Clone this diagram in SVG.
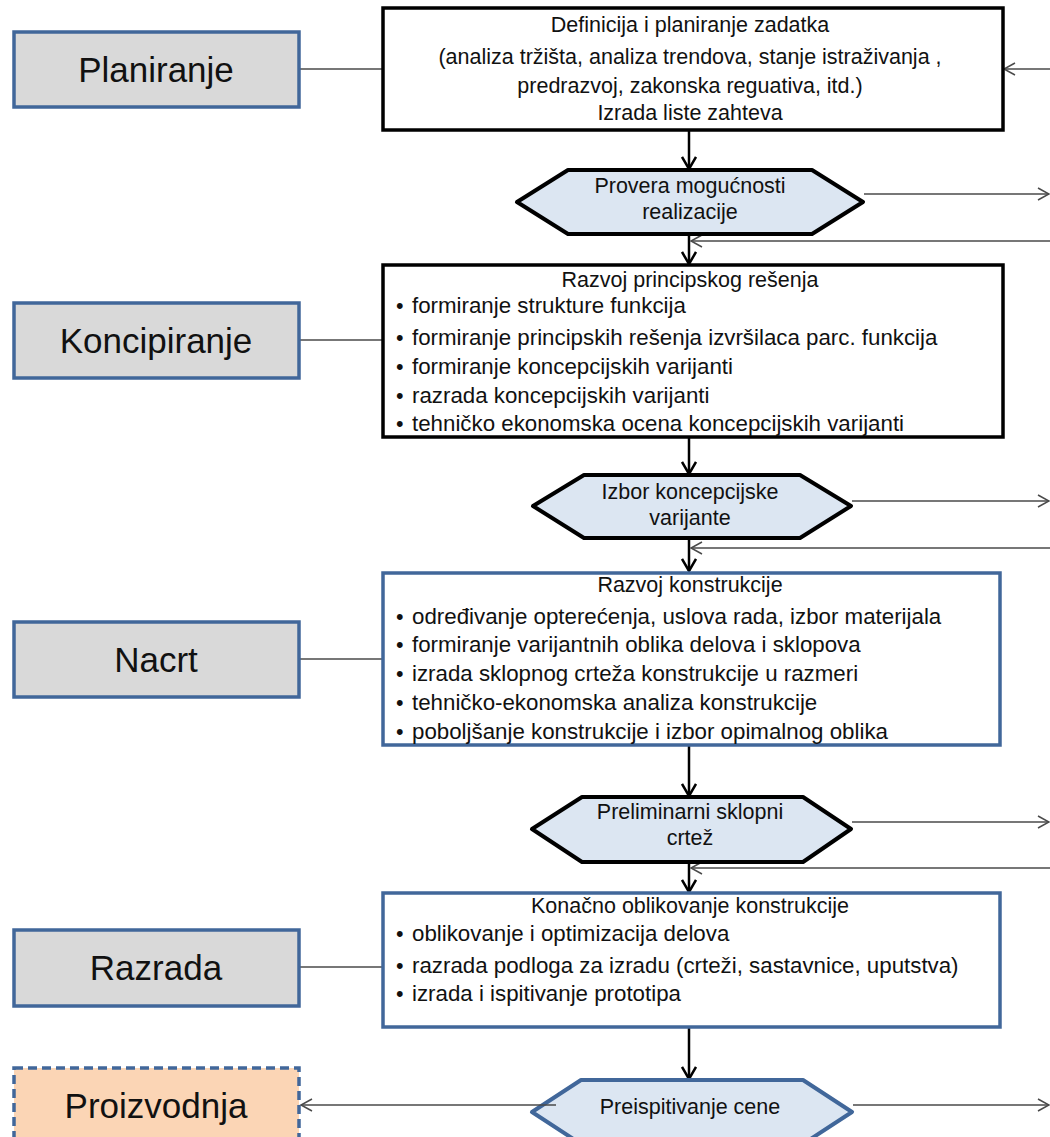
<svg xmlns="http://www.w3.org/2000/svg" width="1050" height="1137" viewBox="0 0 1050 1137">
<style>
text{font-family:"Liberation Sans",Arial,sans-serif;fill:#111}
.t{font-size:21.5px}
.b{font-size:22.3px}
.c{text-anchor:middle}
.lbl{font-size:35px;text-anchor:middle}
.phase{fill:#d9d9d9;stroke:#41679a;stroke-width:3.5}
.boxk{fill:#fff;stroke:#000;stroke-width:3.5}
.boxb{fill:#fff;stroke:#41679a;stroke-width:3.5}
.hexk{fill:#dce6f2;stroke:#000;stroke-width:4;stroke-linejoin:round}
.hexb{fill:#dce6f2;stroke:#41679a;stroke-width:4;stroke-linejoin:round}
.thin{stroke:#4a4a4a;stroke-width:1.5;fill:none}
.main{stroke:#000;stroke-width:2.5;fill:none}
</style>
<defs>
<marker id="ah" markerUnits="userSpaceOnUse" markerWidth="16" markerHeight="16" refX="13" refY="8" orient="auto">
<path d="M1,1 L13,8 L1,15" fill="none" stroke="#000" stroke-width="2.5"/>
</marker>
<marker id="at" markerUnits="userSpaceOnUse" markerWidth="14" markerHeight="14" refX="12" refY="7" orient="auto">
<path d="M1,1 L12,7 L1,13" fill="none" stroke="#4a4a4a" stroke-width="1.5"/>
</marker>
</defs>

<g id="connectors">
<line class="thin" x1="299" y1="69" x2="383" y2="69"/>
<line class="thin" x1="299" y1="340" x2="383" y2="340"/>
<line class="thin" x1="299" y1="659" x2="383" y2="659"/>
<line class="thin" x1="299" y1="967" x2="383" y2="967"/>
<line class="thin" x1="1050" y1="69" x2="1004" y2="69" marker-end="url(#at)"/>
<line class="main" x1="689" y1="130" x2="689" y2="169" marker-end="url(#ah)"/>
<line class="main" x1="689" y1="234" x2="689" y2="264" marker-end="url(#ah)"/>
<line class="main" x1="689" y1="437" x2="689" y2="474" marker-end="url(#ah)"/>
<line class="main" x1="689" y1="538" x2="689" y2="571" marker-end="url(#ah)"/>
<line class="main" x1="689" y1="745" x2="689" y2="796" marker-end="url(#ah)"/>
<line class="main" x1="689" y1="862" x2="689" y2="892" marker-end="url(#ah)"/>
<line class="main" x1="689" y1="1027" x2="689" y2="1079" marker-end="url(#ah)"/>
<line class="thin" x1="864" y1="194" x2="1049" y2="194" marker-end="url(#at)"/>
<line class="thin" x1="1050" y1="241" x2="691" y2="241" marker-end="url(#at)"/>
<line class="thin" x1="852" y1="501" x2="1049" y2="501" marker-end="url(#at)"/>
<line class="thin" x1="1050" y1="548" x2="691" y2="548" marker-end="url(#at)"/>
<line class="thin" x1="852" y1="822" x2="1049" y2="822" marker-end="url(#at)"/>
<line class="thin" x1="1050" y1="868" x2="691" y2="868" marker-end="url(#at)"/>
<line class="thin" x1="853" y1="1105" x2="1049" y2="1105" marker-end="url(#at)"/>
</g>

<g id="planiranje">
<rect class="phase" x="14" y="32" width="285" height="75"/>
<text class="lbl" x="156" y="82">Planiranje</text>
</g>
<g id="koncipiranje">
<rect class="phase" x="14" y="303" width="285" height="75"/>
<text class="lbl" x="156" y="353">Koncipiranje</text>
</g>
<g id="nacrt">
<rect class="phase" x="14" y="622" width="285" height="75"/>
<text class="lbl" x="156" y="672">Nacrt</text>
</g>
<g id="razrada">
<rect class="phase" x="14" y="930" width="285" height="76"/>
<text class="lbl" x="156" y="980">Razrada</text>
</g>
<g id="proizvodnja">
<rect x="14" y="1068" width="285" height="80" fill="#fbd5b5" stroke="#41679a" stroke-width="3.5" stroke-dasharray="9,5"/>
<text class="lbl" x="156" y="1118">Proizvodnja</text>
</g>

<g id="definicija">
<rect class="boxk" x="383" y="8" width="620" height="122"/>
<text class="t c" x="690" y="32">Definicija i planiranje zadatka</text>
<text class="t c" x="690" y="64">(analiza tržišta, analiza trendova, stanje istraživanja ,</text>
<text class="t c" x="690" y="93">predrazvoj, zakonska  reguativa, itd.)</text>
<text class="t c" x="690" y="120">Izrada liste zahteva</text>
</g>

<g id="provera">
<polygon class="hexk" points="517,202 568,170 812,170 863,202 812,234 568,234"/>
<text class="t c" x="690" y="193">Provera mogućnosti</text>
<text class="t c" x="690" y="219">realizacije</text>
</g>

<g id="razvoj-principskog">
<rect class="boxk" x="383" y="265" width="620" height="172"/>
<text class="t c" x="690" y="287">Razvoj principskog rešenja</text>
<text class="t" x="396" y="313">•</text><text class="b" x="412" y="313">formiranje strukture funkcija</text>
<text class="t" x="396" y="345">•</text><text class="b" x="412" y="345">formiranje principskih rešenja izvršilaca parc. funkcija</text>
<text class="t" x="396" y="374">•</text><text class="b" x="412" y="374">formiranje koncepcijskih varijanti</text>
<text class="t" x="396" y="403">•</text><text class="b" x="412" y="403">razrada koncepcijskih  varijanti</text>
<text class="t" x="396" y="431">•</text><text class="b" x="412" y="431">tehničko ekonomska ocena koncepcijskih varijanti</text>
</g>

<g id="izbor">
<polygon class="hexk" points="533,506 584,475 800,475 851,506 800,538 584,538"/>
<text class="t c" x="690" y="499">Izbor koncepcijske</text>
<text class="t c" x="690" y="525">varijante</text>
</g>

<g id="razvoj-konstrukcije">
<rect class="boxb" x="383" y="573" width="617" height="172"/>
<text class="t c" x="690" y="592">Razvoj konstrukcije</text>
<text class="t" x="396" y="624">•</text><text class="b" x="412" y="624">određivanje opterećenja, uslova rada, izbor materijala</text>
<text class="t" x="396" y="652">•</text><text class="b" x="412" y="652">formiranje varijantnih oblika delova i sklopova</text>
<text class="t" x="396" y="681">•</text><text class="b" x="412" y="681">izrada sklopnog  crteža konstrukcije  u razmeri</text>
<text class="t" x="396" y="710">•</text><text class="b" x="412" y="710">tehničko-ekonomska  analiza konstrukcije</text>
<text class="t" x="396" y="739">•</text><text class="b" x="412" y="739">poboljšanje konstrukcije i izbor opimalnog oblika</text>
</g>

<g id="preliminarni">
<polygon class="hexk" points="532,829 582,797 803,797 851,829 803,862 582,862"/>
<text class="t c" x="690" y="819">Preliminarni sklopni</text>
<text class="t c" x="690" y="845">crtež</text>
</g>

<g id="konacno">
<rect class="boxb" x="383" y="893" width="617" height="134"/>
<text class="t c" x="690" y="913">Konačno oblikovanje konstrukcije</text>
<text class="t" x="396" y="941">•</text><text class="b" x="412" y="941">oblikovanje  i optimizacija delova</text>
<text class="t" x="396" y="973">•</text><text class="b" x="412" y="973">razrada podloga  za izradu (crteži, sastavnice, uputstva)</text>
<text class="t" x="396" y="1001">•</text><text class="b" x="412" y="1001">izrada i ispitivanje prototipa</text>
</g>

<g id="preispitivanje">
<polygon class="hexb" points="532,1112 581,1080 803,1080 852,1112 803,1144 581,1144"/>
<text class="t c" x="690" y="1114">Preispitivanje cene</text>
</g>
<g id="connectors-over">
<line class="thin" x1="556" y1="1105" x2="301" y2="1105" marker-end="url(#at)"/>
</g>
</svg>
